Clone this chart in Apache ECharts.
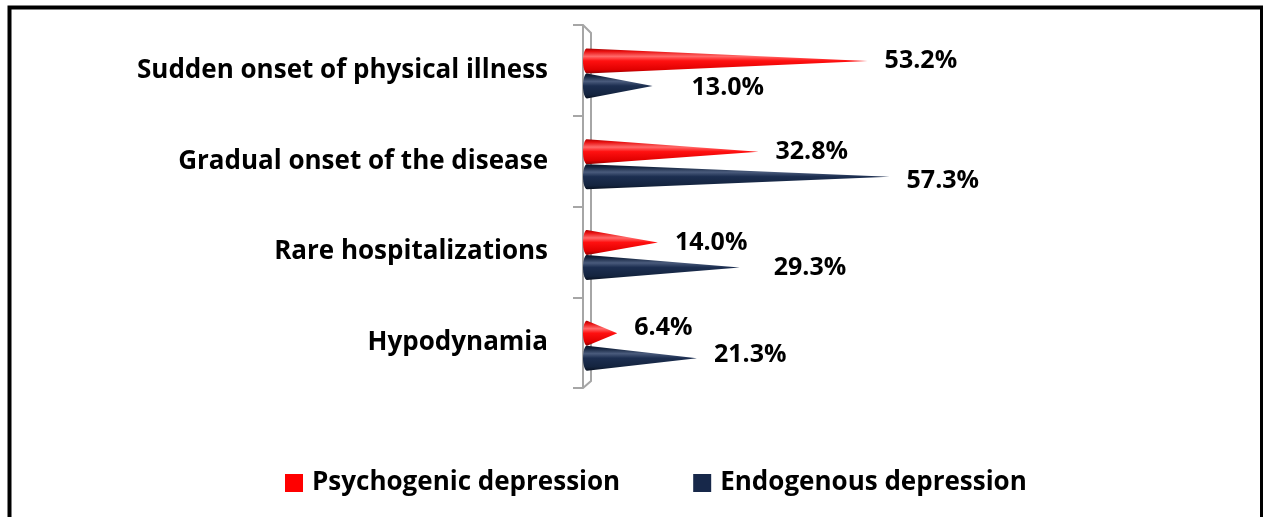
<!DOCTYPE html>
<html>
<head>
<meta charset="utf-8">
<script src="https://cdn.jsdelivr.net/npm/echarts@6/dist/echarts.min.js"></script>
<style>
html,body{margin:0;padding:0;background:#fff;}
#chart{width:1263px;height:517px;}
</style>
</head>
<body>
<div id="chart"></div>
<script>
// ---- data ----
const categories = ['Sudden onset of physical illness', 'Gradual onset of the disease', 'Rare hospitalizations', 'Hypodynamia'];
const seriesNames = ['Psychogenic depression', 'Endogenous depression'];
const psychogenic = [53.2, 32.8, 14.0, 6.4];
const endogenous = [13.0, 57.3, 29.3, 21.3];

// ---- styling / layout ----
const FONT = '"Open Sans", Lato, sans-serif';
const GRID = { left: 583, top: 25, bottom: 129, right: 359 };
const CONE_H = 25;
const colors = ['#ff0000', '#17284a'];
const gradStops = [
  [{offset:0,color:'#a80000'},{offset:0.12,color:'#e81010'},{offset:0.32,color:'#ff6a6a'},{offset:0.5,color:'#ff1010'},{offset:0.85,color:'#e00000'},{offset:1,color:'#900000'}],
  [{offset:0,color:'#0b1628'},{offset:0.12,color:'#14243f'},{offset:0.32,color:'#4a5b7c'},{offset:0.5,color:'#1c2e50'},{offset:0.85,color:'#14243f'},{offset:1,color:'#091222'}]
];
// label nudges [dx, dy] per series / category
const labelNudge = [
  [[0,0],[0,0],[0,0],[0,-5]],
  [[22,2],[0,4],[17,0],[0,-3]]
];

function makeRender(s) {
  return function (params, api) {
    const v = api.value(0), ci = api.value(1);
    const p0 = api.coord([0, ci]);
    const p1 = api.coord([v, ci]);
    const yc = p0[1] + (s === 0 ? -CONE_H / 2 : CONE_H / 2) + 3;
    const rx = 4, ry = CONE_H / 2, cx = p0[0] + rx;
    const pts = [];
    for (let k = 0; k <= 16; k++) {
      const t = (-90 - 180 * k / 16) * Math.PI / 180;
      pts.push([cx + rx * Math.cos(t), yc + ry * Math.sin(t)]);
    }
    pts.push([p1[0], yc]);
    const nd = labelNudge[s][ci];
    return {
      type: 'group',
      children: [
        {
          type: 'polygon',
          shape: { points: pts },
          style: { fill: new echarts.graphic.LinearGradient(0, 0, 0, 1, gradStops[s]) }
        },
        {
          type: 'text',
          style: {
            text: v.toFixed(1) + '%',
            x: p1[0] + 17 + nd[0],
            y: yc + nd[1],
            verticalAlign: 'middle',
            align: 'left',
            fill: '#000',
            font: 'bold 25px ' + FONT
          }
        }
      ]
    };
  };
}

const chart = echarts.init(document.getElementById('chart'), null, { renderer: 'canvas' });
const option = {
  backgroundColor: '#fff',
  animation: false,
  grid: { left: GRID.left, top: GRID.top, bottom: GRID.bottom, right: GRID.right, containLabel: false },
  xAxis: { type: 'value', min: 0, max: 60, show: false },
  yAxis: {
    type: 'category',
    data: categories,
    inverse: true,
    axisLine: { show: true, lineStyle: { color: '#a6a6a6', width: 2 } },
    axisTick: { show: true, length: 10, lineStyle: { color: '#a6a6a6', width: 2 } },
    axisLabel: { margin: 35, color: '#000', fontFamily: FONT, fontWeight: 'bold', fontSize: 26, padding: [11, 0, 0, 0] },
    splitLine: { show: false }
  },
  legend: {
    data: seriesNames,
    left: 285, top: 470, padding: 0,
    icon: 'rect', itemWidth: 18, itemHeight: 18, itemGap: 73,
    textStyle: { color: '#000', fontFamily: FONT, fontWeight: 'bold', fontSize: 26, padding: [0, 0, 0, 4] }
  },
  series: [
    { name: seriesNames[0], type: 'custom', renderItem: makeRender(0), itemStyle: { color: colors[0] },
      encode: { x: 0, y: 1 }, data: psychogenic.map((v, i) => [v, i]) },
    { name: seriesNames[1], type: 'custom', renderItem: makeRender(1), itemStyle: { color: colors[1] },
      encode: { x: 0, y: 1 }, data: endogenous.map((v, i) => [v, i]) }
  ],
  graphic: [
    { type: 'rect', shape: { x: 9.5, y: 7.5, width: 1252.5, height: 600 }, style: { fill: null, stroke: '#000', lineWidth: 4 }, silent: true },
    { type: 'polyline', shape: { points: [[GRID.left, GRID.top], [GRID.left + 8, GRID.top + 8], [GRID.left + 8, 517 - GRID.bottom - 7], [GRID.left, 517 - GRID.bottom]] },
      style: { stroke: '#a6a6a6', lineWidth: 2, fill: null }, silent: true }
  ]
};
chart.setOption(option);
</script>
</body>
</html>
